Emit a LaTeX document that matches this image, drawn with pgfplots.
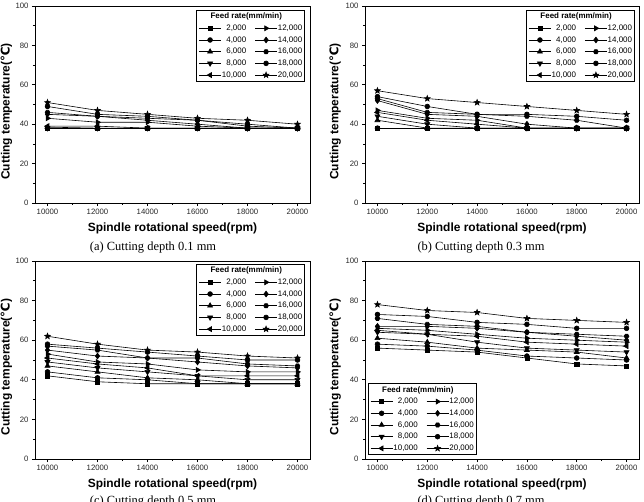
\documentclass[border=0pt]{standalone}
\usepackage{fontspec}
\setmainfont{Liberation Sans}
\newfontfamily\capfont{Liberation Serif}
\newfontfamily\symfont{DejaVu Sans}
\usepackage{pgfplots}
\usepackage{pgfplotstable}
\pgfplotsset{compat=1.18}
\usetikzlibrary{plotmarks}

% filled five-pointed star
\pgfdeclareplotmark{fstar}{%
  \pgfpathmoveto{\pgfpointpolar{90}{\pgfplotmarksize}}%
  \pgfpathlineto{\pgfpointpolar{126}{0.42\pgfplotmarksize}}%
  \pgfpathlineto{\pgfpointpolar{162}{\pgfplotmarksize}}%
  \pgfpathlineto{\pgfpointpolar{198}{0.42\pgfplotmarksize}}%
  \pgfpathlineto{\pgfpointpolar{234}{\pgfplotmarksize}}%
  \pgfpathlineto{\pgfpointpolar{270}{0.42\pgfplotmarksize}}%
  \pgfpathlineto{\pgfpointpolar{306}{\pgfplotmarksize}}%
  \pgfpathlineto{\pgfpointpolar{342}{0.42\pgfplotmarksize}}%
  \pgfpathlineto{\pgfpointpolar{18}{\pgfplotmarksize}}%
  \pgfpathlineto{\pgfpointpolar{54}{0.42\pgfplotmarksize}}%
  \pgfpathclose\pgfusepathqfillstroke}
% filled hexagon
\pgfdeclareplotmark{hexa}{%
  \pgfpathmoveto{\pgfpointpolar{0}{\pgfplotmarksize}}%
  \pgfpathlineto{\pgfpointpolar{60}{\pgfplotmarksize}}%
  \pgfpathlineto{\pgfpointpolar{120}{\pgfplotmarksize}}%
  \pgfpathlineto{\pgfpointpolar{180}{\pgfplotmarksize}}%
  \pgfpathlineto{\pgfpointpolar{240}{\pgfplotmarksize}}%
  \pgfpathlineto{\pgfpointpolar{300}{\pgfplotmarksize}}%
  \pgfpathclose\pgfusepathqfillstroke}

% cutting temperature (deg C) vs spindle speed, one column per feed rate
\pgfplotstableread{
rpm   f2 f4 f6 f8 f10 f12 f14 f16 f18 f20
10000 38 38 38.5 38 39 43 45 46 49 51
12000 38 38 38 38 39 41 44 44 45 47
14000 38 38 38 38 38 41 42 43 44 45
16000 38 38 38 38 38 39 40 42 42 43
18000 38 38 38 38 38 38 38 39 40 42
20000 38 38 38 38 38 38 38 38 38 40
}\depthA
\pgfplotstableread{
rpm   f2 f4 f6 f8 f10 f12 f14 f16 f18 f20
10000 38 38 42 44 46 47 52 53 54 57
12000 38 38 38 40 42 43 45 46 49 53
14000 38 38 38 38 40 42 44 45 45 51
16000 38 38 38 38 38 38 40 44 45 49
18000 38 38 38 38 38 38 38 42 44 47
20000 38 38 38 38 38 38 38 38 42 45
}\depthB
\pgfplotstableread{
rpm   f2 f4 f6 f8 f10 f12 f14 f16 f18 f20
10000 42 44 47 49 51 53 55 57 58 62
12000 39 41 44 46 48 49 52 55 56 58
14000 38 40 41 44 46 48 51 51 54 55
16000 38 38 40 42 42 45 49 51 52 54
18000 38 38 38 40 42 44 47 48 50 52
20000 38 38 38 40 42 44 46 47 50 51
}\depthC
\pgfplotstableread{
rpm   f2 f4 f6 f8 f10 f12 f14 f16 f18 f20
10000 56 58 61 64 65 66 67 71 73 78
12000 55 57 59 63 63 65 67 68 72 75
14000 54 55 56 59 62 63 66 67 69 74
16000 51 52 55 56 59 61 64 64 68 71
18000 48 51 54 55 58 60 62 63 66 70
20000 47 50 51 54 57 59 60 62 66 69
}\depthD

\pgfplotsset{
  ser/.style={black, line width=0.6bp, mark size=2.4bp, mark options={solid, fill=black}},
  s2/.style={ser, mark=square*, mark size=2.1bp},
  s4/.style={ser, mark=*},
  s6/.style={ser, mark=triangle*, mark size=2.9bp},
  s8/.style={ser, mark=triangle*, mark size=2.9bp, mark options={rotate=180, solid, fill=black}},
  s10/.style={ser, mark=triangle*, mark size=2.9bp, mark options={rotate=90, solid, fill=black}},
  s12/.style={ser, mark=triangle*, mark size=2.9bp, mark options={rotate=-90, solid, fill=black}},
  s14/.style={ser, mark=diamond*, mark size=2.9bp},
  s16/.style={ser, mark=hexa},
  s18/.style={ser, mark=*},
  s20/.style={ser, mark=fstar, mark size=3bp},
  panel/.style={
    scale only axis, width=275bp, height=197bp,
    xmin=9500, xmax=20500, ymin=0, ymax=100,
    xtick={10000,12000,14000,16000,18000,20000},
    xticklabels={10000,12000,14000,16000,18000,20000},
    scaled x ticks=false,
    ytick={0,20,40,60,80,100},
    minor x tick num=1, minor y tick num=1,
    tick align=outside, xtick pos=bottom, ytick pos=left,
    major tick length=3bp, minor tick length=2bp,
    every tick/.style={black, line width=0.6bp},
    axis line style={line width=0.8bp},
    /pgf/number format/assume math mode=true,
    ticklabel style={font=\fontsize{7.8}{9}\selectfont, text=black!85},
    xlabel={\bfseries Spindle rotational speed(rpm)},
    ylabel={\bfseries Cutting temperature({\symfont\bfseries ℃})},
    label style={font=\fontsize{12}{14}\selectfont},
    xlabel style={at={(axis description cs:0.5,-0.127)}, anchor=center},
    ylabel style={at={(axis description cs:-0.104,0.465)}, anchor=center},
    % filled column by column: six rows of two entries
    legend columns=6, transpose legend, legend cell align=right,
    legend image code/.code={\draw[mark repeat=2, mark phase=2]
      plot coordinates {(0bp,0bp) (11bp,0bp) (22bp,0bp)};},
    legend style={draw=black, line width=0.6bp, fill=white,
      font=\fontsize{8}{9.5}\selectfont, inner xsep=2bp, inner ysep=0.5bp,
      nodes={inner xsep=0.5bp, inner ysep=2bp, text height=6bp, text depth=1.7bp},
      /tikz/every even column/.append style={column sep=8bp}},
  },
}

\newcommand\feedseries[1]{%
  \addlegendimage{empty legend}\addlegendentry{\makebox[0pt]{\bfseries Feed rate(mm/min)}}
  \addplot[s2]  table[x=rpm, y=f2]  {#1}; \addlegendentry{2,000}
  \addplot[s4]  table[x=rpm, y=f4]  {#1}; \addlegendentry{4,000}
  \addplot[s6]  table[x=rpm, y=f6]  {#1}; \addlegendentry{6,000}
  \addplot[s8]  table[x=rpm, y=f8]  {#1}; \addlegendentry{8,000}
  \addplot[s10] table[x=rpm, y=f10] {#1}; \addlegendentry{10,000}
  \addlegendimage{empty legend}\addlegendentry{}
  \addplot[s12] table[x=rpm, y=f12] {#1}; \addlegendentry{12,000}
  \addplot[s14] table[x=rpm, y=f14] {#1}; \addlegendentry{14,000}
  \addplot[s16] table[x=rpm, y=f16] {#1}; \addlegendentry{16,000}
  \addplot[s18] table[x=rpm, y=f18] {#1}; \addlegendentry{18,000}
  \addplot[s20] table[x=rpm, y=f20] {#1}; \addlegendentry{20,000}
}

\begin{document}
\begin{tikzpicture}
\path[use as bounding box] (0,0) rectangle (644bp,502bp);

\begin{axis}[panel, at={(35bp,299bp)}, anchor=south west,
  legend style={at={(rel axis cs:0.982,0.98)}, anchor=north east}]
\feedseries{\depthA}
\end{axis}

\begin{axis}[panel, width=274bp, at={(365bp,299bp)}, anchor=south west,
  ylabel style={at={(axis description cs:-0.109,0.465)}},
  legend style={at={(rel axis cs:0.985,0.98)}, anchor=north east}]
\feedseries{\depthB}
\end{axis}

\begin{axis}[panel, height=198bp, at={(35bp,43bp)}, anchor=south west,
  legend style={at={(rel axis cs:0.982,0.985)}, anchor=north east}]
\feedseries{\depthC}
\end{axis}

\begin{axis}[panel, width=274bp, height=198bp, at={(365bp,43bp)}, anchor=south west,
  ylabel style={at={(axis description cs:-0.109,0.465)}},
  legend style={at={(rel axis cs:0.011,0.02)}, anchor=south west}]
\feedseries{\depthD}
\end{axis}

\begin{scope}[every node/.style={inner sep=0pt, anchor=north, font=\capfont\fontsize{12.5}{14}\selectfont}]
\node at (153bp,260bp) {(a) Cutting depth 0.1 mm};
\node at (481bp,260bp) {(b) Cutting depth 0.3 mm};
\node at (153bp,6bp) {(c) Cutting depth 0.5 mm};
\node at (481bp,6bp) {(d) Cutting depth 0.7 mm};
\end{scope}
\end{tikzpicture}
\end{document}
